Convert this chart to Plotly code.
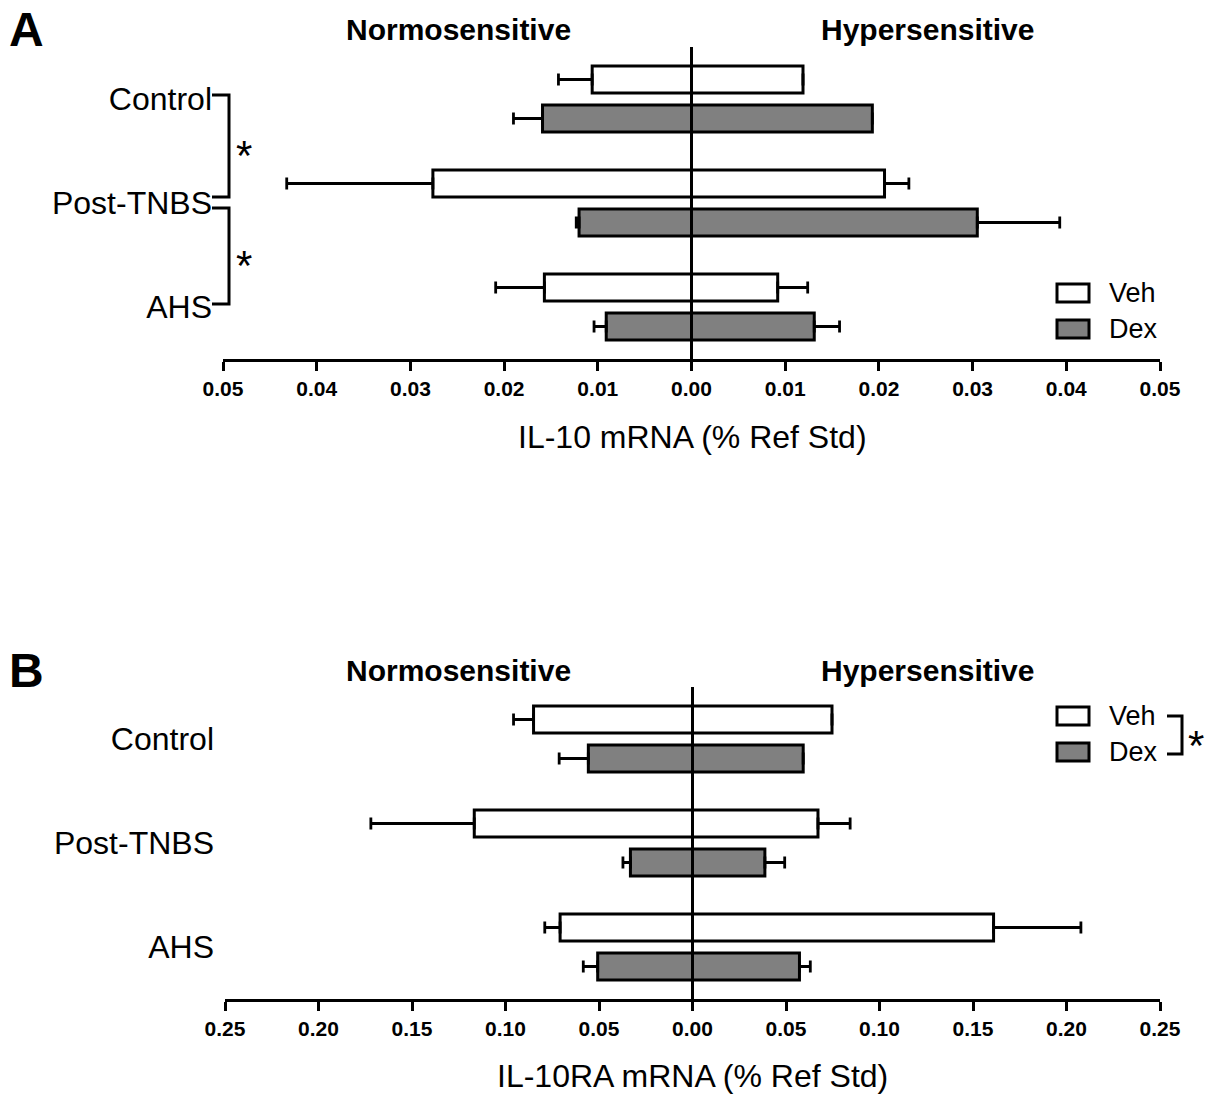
import plotly.graph_objects as go

# ---------------- data ----------------
categories = ["Control", "Post-TNBS", "AHS"]

# Panel A: IL-10 mRNA (% Ref Std)
a_veh_normo = [0.0106, 0.0276, 0.0157]
a_veh_normo_sem = [0.0036, 0.0156, 0.0052]
a_dex_normo = [0.0159, 0.0120, 0.0091]
a_dex_normo_sem = [0.0031, 0.0003, 0.0013]
a_veh_hyper = [0.0119, 0.0206, 0.0092]
a_veh_hyper_sem = [0.0, 0.0026, 0.0032]
a_dex_hyper = [0.0193, 0.0305, 0.0131]
a_dex_hyper_sem = [0.0, 0.0088, 0.0027]

# Panel B: IL-10RA mRNA (% Ref Std)
b_veh_normo = [0.0850, 0.1167, 0.0708]
b_veh_normo_sem = [0.0107, 0.0553, 0.0082]
b_dex_normo = [0.0557, 0.0332, 0.0507]
b_dex_normo_sem = [0.0156, 0.0040, 0.0077]
b_veh_hyper = [0.0746, 0.0671, 0.1610]
b_veh_hyper_sem = [0.0, 0.0172, 0.0467]
b_dex_hyper = [0.0592, 0.0387, 0.0572]
b_dex_hyper_sem = [0.0, 0.0106, 0.0058]

a_tickvals = [-0.05, -0.04, -0.03, -0.02, -0.01, 0.0, 0.01, 0.02, 0.03, 0.04, 0.05]
a_ticktext = ["0.05", "0.04", "0.03", "0.02", "0.01", "0.00", "0.01", "0.02", "0.03", "0.04", "0.05"]
b_tickvals = [-0.25, -0.20, -0.15, -0.10, -0.05, 0.0, 0.05, 0.10, 0.15, 0.20, 0.25]
b_ticktext = ["0.25", "0.20", "0.15", "0.10", "0.05", "0.00", "0.05", "0.10", "0.15", "0.20", "0.25"]

series_names = ["Veh", "Dex"]
side_names = ["Normosensitive", "Hypersensitive"]
x_titles = ["IL-10 mRNA (% Ref Std)", "IL-10RA mRNA (% Ref Std)"]
panel_letters = ["A", "B"]

# ---------------- style ----------------
W, H = 1207, 1094
FONT = "Liberation Sans, Arial, Helvetica, sans-serif"
VEH_FILL = "#ffffff"
DEX_FILL = "#808080"
BAR_W = 0.26
OFFSETS = {"Veh": -0.3175, "Dex": 0.0575}


def px(x):
    """window pixel x -> paper fraction"""
    return x / W


def py(y):
    """window pixel y (from top) -> paper fraction"""
    return 1 - y / H


fig = go.Figure()


def add_bars(xa, ya, normo, normo_sem, hyper, hyper_sem, name, fill):
    common = dict(
        y=categories,
        orientation="h",
        width=BAR_W,
        offset=OFFSETS[name],
        marker=dict(color=fill, line=dict(color="black", width=3)),
        xaxis=xa,
        yaxis=ya,
        name=name,
        showlegend=False,
        hoverinfo="x+y+name",
    )
    fig.add_trace(go.Bar(
        x=[-v for v in normo],
        error_x=dict(type="data", symmetric=False, array=[0] * len(normo),
                     arrayminus=normo_sem, color="black", thickness=2.8, width=6),
        **common))
    fig.add_trace(go.Bar(
        x=hyper,
        error_x=dict(type="data", symmetric=False, array=hyper_sem,
                     arrayminus=[0] * len(hyper), color="black", thickness=2.8, width=6),
        **common))


add_bars("x", "y", a_veh_normo, a_veh_normo_sem, a_veh_hyper, a_veh_hyper_sem, "Veh", VEH_FILL)
add_bars("x", "y", a_dex_normo, a_dex_normo_sem, a_dex_hyper, a_dex_hyper_sem, "Dex", DEX_FILL)
add_bars("x2", "y2", b_veh_normo, b_veh_normo_sem, b_veh_hyper, b_veh_hyper_sem, "Veh", VEH_FILL)
add_bars("x2", "y2", b_dex_normo, b_dex_normo_sem, b_dex_hyper, b_dex_hyper_sem, "Dex", DEX_FILL)

xcommon = dict(
    showline=True, linewidth=3, linecolor="black",
    ticks="outside", ticklen=9, tickwidth=3, tickcolor="black",
    showgrid=False, zeroline=False, automargin=False,
    tickfont=dict(family=FONT, size=21, color="black", weight="bold"),
    fixedrange=True,
)
ycommon = dict(
    type="category",
    range=[2.5, -0.5],
    showline=False, showgrid=False, zeroline=False, automargin=False,
    ticks="", ticklabelstandoff=10,
    tickfont=dict(family=FONT, size=32, color="black"),
    fixedrange=True,
)

fig.update_layout(
    width=W, height=H,
    autosize=False,
    margin=dict(l=0, r=0, t=0, b=0, pad=0),
    paper_bgcolor="white", plot_bgcolor="white",
    barmode="overlay",
    showlegend=False,
    xaxis=dict(domain=[px(223), px(1160)], anchor="y", range=[-0.05, 0.05],
               tickvals=a_tickvals, ticktext=a_ticktext, **xcommon),
    yaxis=dict(domain=[py(359), py(47)], anchor="x", **ycommon),
    xaxis2=dict(domain=[px(225), px(1160)], anchor="y2", range=[-0.25, 0.25],
                tickvals=b_tickvals, ticktext=b_ticktext, **xcommon),
    yaxis2=dict(domain=[py(999), py(687)], anchor="x2", **ycommon),
)

shapes = []
# zero lines
for xr, yr in (("x", "y domain"), ("x2", "y2 domain")):
    shapes.append(dict(type="line", xref=xr, yref=yr, x0=0, x1=0, y0=0, y1=1,
                       line=dict(color="black", width=3), layer="above"))


def bracket_path(x_left, x_right, y_top, y_bottom):
    return (f"M {px(x_left)},{py(y_top)} L {px(x_right)},{py(y_top)} "
            f"L {px(x_right)},{py(y_bottom)} L {px(x_left)},{py(y_bottom)}")


# significance brackets panel A
shapes.append(dict(type="path", xref="paper", yref="paper",
                   path=bracket_path(212, 229, 95, 197),
                   line=dict(color="black", width=3)))
shapes.append(dict(type="path", xref="paper", yref="paper",
                   path=bracket_path(212, 229, 208, 304),
                   line=dict(color="black", width=3)))
# bracket next to legend panel B
shapes.append(dict(type="path", xref="paper", yref="paper",
                   path=bracket_path(1167, 1182, 716, 754),
                   line=dict(color="black", width=3)))

# legend boxes
legend_rows = [  # (panel, name, fill, y_center)
    ("A", "Veh", VEH_FILL, 293), ("A", "Dex", DEX_FILL, 329),
    ("B", "Veh", VEH_FILL, 716), ("B", "Dex", DEX_FILL, 752),
]
for _, nm, fill, yc in legend_rows:
    shapes.append(dict(type="rect", xref="paper", yref="paper",
                       x0=px(1057), x1=px(1089), y0=py(yc + 9), y1=py(yc - 9),
                       fillcolor=fill, line=dict(color="black", width=3)))

fig.update_layout(shapes=shapes)

ann = []
for _, nm, fill, yc in legend_rows:
    ann.append(dict(text=nm, x=px(1107), y=py(yc), xref="paper", yref="paper",
                    xanchor="left", yanchor="middle", showarrow=False,
                    font=dict(family=FONT, size=27, color="black")))

for i, top in enumerate((30, 670)):
    ann.append(dict(text=panel_letters[i], x=px(26), y=py(top), xref="paper", yref="paper",
                    xanchor="center", yanchor="middle", showarrow=False,
                    font=dict(family=FONT, size=48, color="black", weight="bold")))
    ann.append(dict(text=side_names[0], x=px(458), y=py(top), xref="paper", yref="paper",
                    xanchor="center", yanchor="middle", showarrow=False,
                    font=dict(family=FONT, size=30, color="black", weight="bold")))
    ann.append(dict(text=side_names[1], x=px(927), y=py(top), xref="paper", yref="paper",
                    xanchor="center", yanchor="middle", showarrow=False,
                    font=dict(family=FONT, size=30, color="black", weight="bold")))

for i, yt in enumerate((437, 1076)):
    ann.append(dict(text=x_titles[i], x=px(692), y=py(yt), xref="paper", yref="paper",
                    xanchor="center", yanchor="middle", showarrow=False,
                    font=dict(family=FONT, size=32, color="black")))

# asterisks
for (xs, ys) in ((244, 156), (244, 265), (1196, 745)):
    ann.append(dict(text="*", x=px(xs), y=py(ys), xref="paper", yref="paper",
                    xanchor="center", yanchor="middle", showarrow=False,
                    font=dict(family=FONT, size=42, color="black")))

fig.update_layout(annotations=ann)

fig.write_html(
    "out.html",
    config={"displayModeBar": False},
    post_script="document.body.style.margin='0';document.body.style.overflow='hidden';",
)
